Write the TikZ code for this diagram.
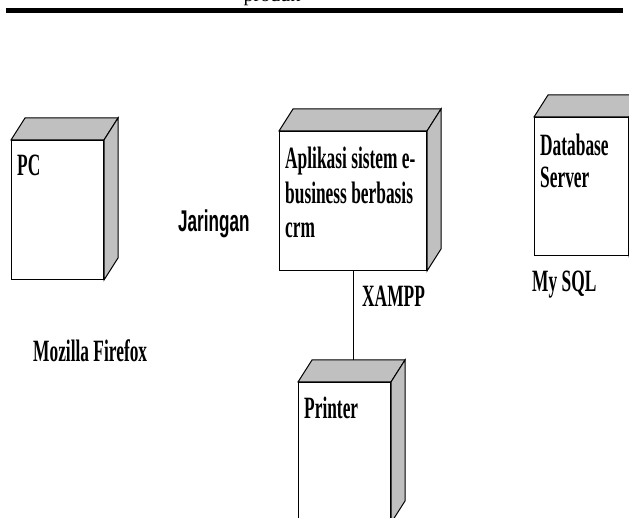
\documentclass[tikz,border=0pt]{standalone}
\usepackage{fontspec}
\setmainfont{Liberation Serif}
\newfontfamily\nd[FakeStretch=0.56]{Liberation Serif}
\newfontfamily\ns[FakeStretch=0.57]{Liberation Sans}
\usetikzlibrary{calc}
\definecolor{sidegray}{RGB}{192,192,192}
\newcommand\boxthreed[1]{%
  \draw[face] (#1.north west) -- ($(#1.north west)+(14,-22)$) -- ($(#1.north east)+(14,-22)$) -- (#1.north east) -- cycle;
  \draw[face] (#1.north east) -- ($(#1.north east)+(14,-22)$) -- ($(#1.south east)+(14,-22)$) -- (#1.south east) -- cycle;}
\begin{document}
\begin{tikzpicture}[x=1pt,y=-1pt,
  front/.style={draw=black, fill=white, line width=1pt, rectangle, anchor=north west, inner sep=0pt},
  face/.style={draw=black, fill=sidegray, line width=1pt, line join=miter},
  lbl/.style={anchor=base west, inner sep=0pt, font=\nd\bfseries\fontsize{31}{34}\selectfont},
  slbl/.style={anchor=base west, inner sep=0pt, font=\ns\bfseries\fontsize{30}{34}\selectfont},
  conn/.style={draw=black, line width=1pt}]
\useasboundingbox (0,0) rectangle (629,518);
\clip (0,0) rectangle (629,518);
% top caption and rule
\node[anchor=base, inner sep=0pt, font=\fontsize{20}{24}\selectfont] (cap) at (272,2) {produk};
\coordinate (rl) at (6,10.5);
\coordinate (rr) at (623,10.5);
\draw[line width=4.5pt] (rl) -- (rr);
% boxes
\node[front, minimum width=92pt, minimum height=139pt] (pc) at (11,140) {};
\boxthreed{pc}
\node[front, minimum width=147pt, minimum height=139pt] (app) at (279,131) {};
\boxthreed{app}
\node[front, minimum width=94pt, minimum height=138pt] (db) at (534,117) {};
\boxthreed{db}
\node[front, minimum width=92pt, minimum height=140pt] (prn) at (298,382) {};
\boxthreed{prn}
% connector
\coordinate (prtop) at ($(prn.north)+(7,-22)$);
\draw[conn] (app.south) -- (app.south |- prtop);
% labels
\node[lbl] (pct) at (17,176) {PC};
\node[lbl] (app1) at (285,169) {Aplikasi sistem e-};
\node[lbl] (app2) at (285,204) {business berbasis};
\node[lbl] (app3) at (285,238) {crm};
\node[lbl] (db1) at (540,156) {Database};
\node[lbl] (db2) at (540,188) {Server};
\node[lbl] (prt) at (304,418) {Printer};
\node[lbl] (xampp) at (362,307) {XAMPP};
\node[lbl] (mysql) at (532,292) {My SQL};
\node[lbl] (moz) at (33,362) {Mozilla Firefox};
\node[slbl] (jar) at (178,232) {Jaringan};
\end{tikzpicture}
\end{document}
